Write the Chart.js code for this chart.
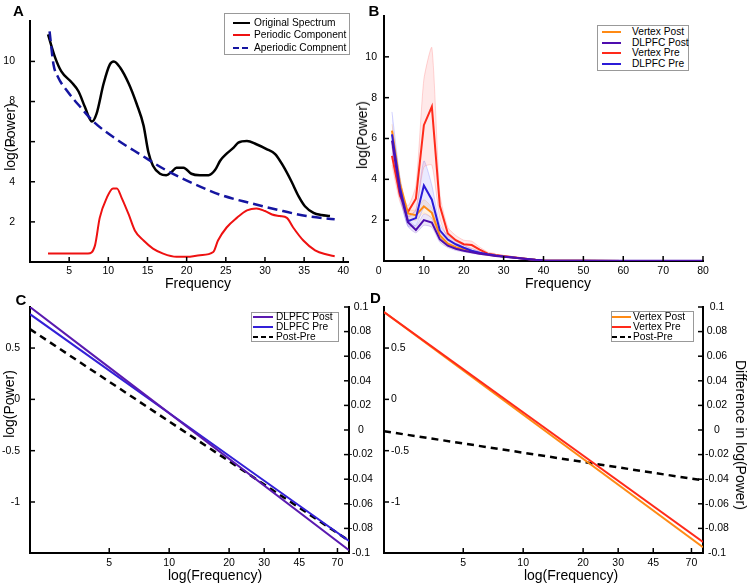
<!DOCTYPE html>
<html><head><meta charset="utf-8">
<script src="https://cdn.jsdelivr.net/npm/chart.js@4.4.0/dist/chart.umd.min.js"></script>
<style>
body{margin:0;width:749px;height:584px;position:relative;background:#fff;font-family:"Liberation Sans",Arial,sans-serif;overflow:hidden}
canvas{position:absolute;left:0;top:0}
.t{position:absolute;white-space:nowrap;color:#000}
.lt{font-weight:bold;font-size:15px}
.ax{font-size:14px}
.lg{position:absolute;border:1px solid #999;background:#fff;font-size:10.2px;box-sizing:border-box;white-space:nowrap}
.row{position:absolute;left:0;right:0;height:12px;line-height:12px}
</style></head>
<body>
<canvas id="cA" width="749" height="584"></canvas>
<canvas id="cB" width="749" height="584"></canvas>
<canvas id="cC" width="749" height="584"></canvas>
<canvas id="cD" width="749" height="584"></canvas>
<script>
// panel A - spectrum decomposition
const origFreqA=[2.3,3.2,4.0,5.3,6.2,7.0,7.9,8.5,9.4,10.2,10.7,11.5,12.6,13.6,14.5,15.1,15.7,16.6,17.4,18.1,18.7,19.6,20.6,21.7,22.8,23.6,24.3,25.1,26.0,26.6,27.7,28.9,30.2,31.3,32.3,33.4,34.3,35.1,36.2,37.2,38.3]
const origA=[11.35,10.2,9.5,8.96,8.5,7.74,7.0,7.4,8.9,9.85,10.0,9.7,8.9,7.9,6.8,5.5,4.8,4.4,4.33,4.5,4.7,4.7,4.4,4.33,4.33,4.57,5.06,5.4,5.7,5.95,6.03,5.87,5.63,5.38,4.8,4.0,3.27,2.78,2.45,2.34,2.29]
const aperFreqA=[2.5,3.0,3.6,4.7,6.4,8.1,11.1,14.0,17.4,20.9,24.3,28.1,32.3,35.3,38.9]
const aperA=[11.5,9.85,9.2,8.55,7.74,7.0,6.1,5.38,4.57,3.9,3.35,2.94,2.54,2.29,2.13]
const perFreqA=[2.3,7.4,8.3,8.9,9.8,10.6,11.1,11.7,12.6,13.4,14.5,15.7,17.0,18.7,20.0,21.7,23.4,24.0,25.1,26.4,27.7,28.9,30.0,30.9,31.9,32.8,33.6,34.9,36.4,37.9,38.9]
const perA=[0.42,0.42,0.83,2.2,3.2,3.67,3.67,3.2,2.37,1.56,1.07,0.67,0.42,0.26,0.26,0.34,0.5,1.07,1.72,2.2,2.57,2.67,2.54,2.37,2.29,2.2,1.72,1.07,0.58,0.37,0.29]
const namesA=['Original Spectrum','Periodic Component','Aperiodic Compnent']
const xTicksA=[5,10,15,20,25,30,35,40]
const yTicksA=[2,4,6,8,10]

// panel B - group spectra
const freqB=[2,4,6,8,10,12,14,16,18,20,22,24,26,28,30,32,34,36,38,40,45,50,60,70,80]
const vertexPostB=[6.39,3.8,2.33,2.24,2.68,2.36,1.25,0.85,0.68,0.56,0.47,0.38,0.32,0.27,0.22,0.18,0.14,0.1,0.06,0.03,0.01,0.01,0,0,0]
const dlpfcPostB=[5.9,3.38,1.9,1.52,2.0,1.88,1.06,0.75,0.6,0.5,0.43,0.36,0.3,0.25,0.21,0.17,0.13,0.09,0.05,0.02,0.01,0.01,0.01,0.01,0.01]
const vertexPreB=[5.15,3.2,2.4,3.05,6.65,7.56,2.7,1.35,1.02,0.82,0.78,0.56,0.36,0.3,0.25,0.2,0.15,0.1,0.06,0.03,0.01,0.01,0,0,0]
const dlpfcPreB=[6.2,3.6,1.95,2.1,3.7,3.0,1.5,1.05,0.82,0.65,0.5,0.4,0.33,0.27,0.22,0.18,0.14,0.1,0.06,0.03,0.01,0.01,0,0,0]
const bandFreqB=[2,4,6,8,10,12,14,16,18,20,22,24,26,28]
const redHi=[5.6,3.6,2.7,3.7,8.9,10.45,3.3,1.65,1.25,1.02,0.97,0.68,0.44,0.36]
const redLo=[4.7,2.9,2.15,2.5,4.6,4.7,2.1,1.1,0.82,0.65,0.62,0.45,0.28,0.24]
const blueHi=[7.3,4.1,2.2,2.5,4.9,3.7,1.8,1.25,0.98,0.78,0.6,0.48,0.38,0.31]
const blueLo=[5.3,3.2,1.7,1.75,2.6,2.4,1.25,0.88,0.68,0.54,0.42,0.33,0.28,0.23]
const orangeHi=[6.7,4.1,2.55,2.5,3.0,2.6,1.45,1.0,0.78,0.64,0.53,0.43,0.36,0.3]
const orangeLo=[6.0,3.5,2.1,2.0,2.35,2.1,1.05,0.72,0.58,0.48,0.41,0.33,0.28,0.24]
const purpleHi=[6.2,3.6,2.1,1.7,2.3,2.1,1.2,0.85,0.68,0.56,0.48,0.4,0.33,0.28]
const purpleLo=[5.6,3.1,1.7,1.38,1.75,1.65,0.92,0.66,0.52,0.44,0.38,0.32,0.27,0.22]
const namesB=['Vertex Post','DLPFC Post','Vertex Pre','DLPFC Pre']
const xTicksB=[0,10,20,30,40,50,60,70,80]

// panels C, D - aperiodic fits
const freqCD=[2,80]
const dlpfcPostC=[0.9,-1.47]
const dlpfcPreC=[0.83,-1.38]
const diffC=[0.082,-0.09]
const vertexPostD=[0.85,-1.44]
const vertexPreD=[0.85,-1.39]
const diffD=[-0.001,-0.041]
const namesC=['DLPFC Post','DLPFC Pre','Post-Pre']
const namesD=['Vertex Post','Vertex Pre','Post-Pre']
const xTicksLog=[5,10,20,30,45,70]
const yTicksLeft=[-1,-0.5,0,0.5]
const yTicksRight=[-0.1,-0.08,-0.06,-0.04,-0.02,0,0.02,0.04,0.06,0.08,0.1]

const C={black:'#000',red:'#EE1111',navy:'#1515A0',orange:'#FF8A14',purple:'#4E0DAE',vred:'#FF2A1A',blue:'#2B1BD8'}
const F={family:'"Liberation Sans", Arial, sans-serif',size:10.5}
const pts=(xs,ys)=>xs.map((x,i)=>({x,y:ys[i]}))

const inTicks={id:'inTicks',afterDraw(c){
  const ctx=c.ctx;ctx.save();ctx.strokeStyle='#000';ctx.lineWidth=1.5
  Object.values(c.scales).forEach(s=>{
    s.ticks.forEach(t=>{
      const p=s.getPixelForValue(t.value)
      ctx.beginPath()
      if(s.axis==='x'){ctx.moveTo(p,s.top);ctx.lineTo(p,s.top-5)}
      else if(s.position==='left'){ctx.moveTo(s.right,p);ctx.lineTo(s.right+5,p)}
      else{ctx.moveTo(s.left,p);ctx.lineTo(s.left-5,p)}
      ctx.stroke()
    })
  })
  ctx.restore()
}}

function axis(type,min,max,ticks,size,pad,extra){
  return Object.assign({type,min,max,
    grid:{display:false,drawTicks:false},
    border:{color:'#000',width:2},
    ticks:Object.assign({font:F,color:'#000',autoSkip:false,maxRotation:0,padding:pad,callback:v=>String(v)},extra||{}),
    afterBuildTicks:s=>{s.ticks=ticks.map(v=>({value:v}))},
    afterFit:s=>{if(s.isHorizontal())s.height=size;else s.width=size}
  })
}
function chart(id,pad,scales,datasets){
  return new Chart(document.getElementById(id),{
    type:'line',data:{datasets},
    options:{responsive:false,animation:false,events:[],layout:{padding:pad},
      elements:{point:{radius:0},line:{cubicInterpolationMode:'monotone'}},
      plugins:{legend:{display:false},tooltip:{enabled:false}},scales},
    plugins:[inTicks]})
}

// A: area x 30-348, y 16-262
chart('cA',{left:0,top:16,right:749-348,bottom:584-262-28},{
  x:axis('linear',0,40.6,xTicksA,28,3),
  y:axis('linear',0,12,yTicksA,30,15)
},[
  {data:pts(perFreqA,perA),borderColor:C.red,borderWidth:2},
  {data:pts(aperFreqA,aperA),borderColor:C.navy,borderWidth:2.5,borderDash:[10,5]},
  {data:pts(origFreqA,origA),borderColor:C.black,borderWidth:2.5}
])

// B: area x 384-703, y 16-261
const band=(hi,lo,fill,line)=>[
  {data:pts(bandFreqB,hi),borderColor:line,borderWidth:1,backgroundColor:fill,fill:'+1',order:10,tension:0.2,cubicInterpolationMode:'default'},
  {data:pts(bandFreqB,lo),borderColor:line,borderWidth:1,fill:false,order:10,tension:0.2,cubicInterpolationMode:'default'}]
chart('cB',{left:0,top:16,right:749-703,bottom:584-261-29},{
  x:axis('linear',0,80,xTicksB,29,4,{callback:v=>v===0?'0\u2003':String(v)}),
  y:axis('linear',0,12,yTicksA,384,7)
},[
  {data:pts(freqB,dlpfcPostB),borderColor:C.purple,borderWidth:2,order:1,cubicInterpolationMode:'default'},
  {data:pts(freqB,dlpfcPreB),borderColor:C.blue,borderWidth:2,order:2,cubicInterpolationMode:'default'},
  {data:pts(freqB,vertexPostB),borderColor:C.orange,borderWidth:2,order:3,cubicInterpolationMode:'default'},
  {data:pts(freqB,vertexPreB),borderColor:C.vred,borderWidth:2,order:4,cubicInterpolationMode:'default'},
  ...band(redHi,redLo,'rgba(255,70,70,0.12)','rgba(255,120,120,0.3)'),
  ...band(blueHi,blueLo,'rgba(90,90,255,0.13)','rgba(120,120,255,0.3)'),
  ...band(orangeHi,orangeLo,'rgba(255,160,60,0.14)','rgba(255,170,90,0.28)'),
  ...band(purpleHi,purpleLo,'rgba(110,60,200,0.13)','rgba(140,100,220,0.28)')
])

// C: area x 30-349, y 307-553
chart('cC',{left:0,top:307,right:749-349-26,bottom:584-553-31},{
  x:axis('logarithmic',2,80,xTicksLog,31,4),
  y:axis('linear',-1.497,0.9,yTicksLeft,30,10),
  y2:Object.assign(axis('linear',-0.1,0.1,yTicksRight,26,0,{crossAlign:'center'}),{position:'right'})
},[
  {data:pts(freqCD,dlpfcPostC),borderColor:'#5A1AB0',borderWidth:2,yAxisID:'y'},
  {data:pts(freqCD,dlpfcPreC),borderColor:'#3320D8',borderWidth:2,yAxisID:'y'},
  {data:pts(freqCD,diffC),borderColor:'#000',borderWidth:2.5,borderDash:[7,5],yAxisID:'y2'}
])

// D: area x 384-703, y 307-553
chart('cD',{left:375,top:307,right:749-703-46,bottom:584-553-31},{
  x:axis('logarithmic',2,80,xTicksLog,31,4),
  y:axis('linear',-1.497,0.9,yTicksLeft,9,7,{mirror:true}),
  y2:Object.assign(axis('linear',-0.1,0.1,yTicksRight,46,2,{crossAlign:'center'}),{position:'right'})
},[
  {data:pts(freqCD,vertexPreD),borderColor:C.vred,borderWidth:2,yAxisID:'y'},
  {data:pts(freqCD,vertexPostD),borderColor:C.orange,borderWidth:2,yAxisID:'y'},
  {data:pts(freqCD,diffD),borderColor:'#000',borderWidth:2.5,borderDash:[7,5],yAxisID:'y2'}
])

// text
function txt(s,cx,cy,cls,rot){
  const d=document.createElement('div');d.className='t '+cls;d.textContent=s
  d.style.left=cx+'px';d.style.top=cy+'px'
  d.style.transform='translate(-50%,-50%)'+(rot?' rotate('+rot+'deg)':'')
  document.body.appendChild(d)
}
txt('A',18.5,10,'lt');txt('B',374,10,'lt');txt('C',21,298.5,'lt');txt('D',375.5,297,'lt')
txt('Frequency',198,283,'ax');txt('log(Power)',10,137,'ax',-90)
txt('Frequency',558,283,'ax');txt('log(Power)',362,135,'ax',-90)
txt('log(Frequency)',215,575,'ax');txt('log(Power)',9,404,'ax',-90)
txt('log(Frequency)',571,575,'ax');txt('Difference in log(Power)',741,435,'ax',90)

function legend(x,y,w,h,rows,sx,sw,tx,items){
  const b=document.createElement('div');b.className='lg'
  Object.assign(b.style,{left:x+'px',top:y+'px',width:w+'px',height:h+'px'})
  items.forEach(([label,color,dash],i)=>{
    const r=document.createElement('div');r.className='row';r.style.top=(rows[i]-y-7)+'px'
    r.innerHTML='<svg width="'+sw+'" height="4" style="position:absolute;left:'+sx+'px;top:4px"><line x1="0" y1="2" x2="'+sw+'" y2="2" stroke="'+color+'" stroke-width="2"'+(dash?' stroke-dasharray="'+dash+'"':'')+'/></svg><span style="position:absolute;left:'+tx+'px;top:0;white-space:nowrap">'+label+'</span>'
    b.appendChild(r)
  })
  document.body.appendChild(b)
}
legend(224,13,126,42,[23,35,48],8,17,29,[[namesA[0],C.black],[namesA[1],C.red],[namesA[2],C.navy,'6 3']])
legend(597,25,92,46,[32,43,53,64],4,19,34,[[namesB[0],C.orange],[namesB[1],C.purple],[namesB[2],C.vred],[namesB[3],C.blue]])
legend(251,312,88,30,[317,327,337],1,20,24,[[namesC[0],'#5A1AB0'],[namesC[1],'#3320D8'],[namesC[2],'#000','5 3']])
legend(611,311,83,31,[317,327,337],0,19,21,[[namesD[0],C.orange],[namesD[1],C.vred],[namesD[2],'#000','5 3']])
</script>
</body></html>
